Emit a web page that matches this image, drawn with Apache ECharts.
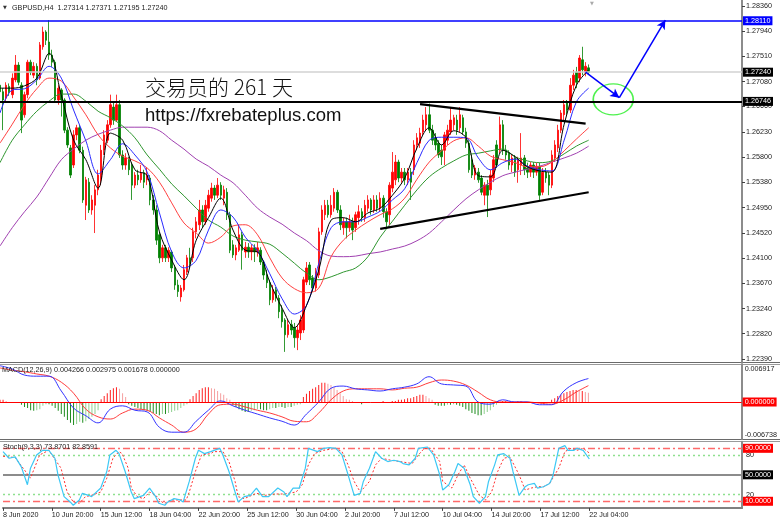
<!DOCTYPE html>
<html>
<head>
<meta charset="utf-8">
<script src="https://cdn.jsdelivr.net/npm/echarts@6.0.0/dist/echarts.min.js"></script>
<style>
html,body{margin:0;padding:0;background:#ffffff;}
#chart{width:780px;height:523px;}
</style>
</head>
<body>
<div id="chart"></div>
<script>
// ---------------- data ----------------
const symbolTitle = 'GBPUSD,H4  1.27314 1.27371 1.27195 1.27240';
const macdTitle = 'MACD(12,26,9) 0.004266 0.002975 0.001678 0.000000';
const stochTitle = 'Stoch(9,3,3) 73.8701 82.8591';
const noteCn = '交易员的 261 天';
const noteUrl = 'https://fxrebateplus.com';

const timeTicks = ['8 Jun 2020','10 Jun 20:00','15 Jun 12:00','18 Jun 04:00','22 Jun 20:00','25 Jun 12:00','30 Jun 04:00','2 Jul 20:00','7 Jul 12:00','10 Jul 04:00','14 Jul 20:00','17 Jul 12:00','22 Jul 04:00'];
const TICK_STEP = 16;      // bars between time labels
const SLOTS = 243;         // bar slots incl. right chart shift

const priceTicks = ['1.28360','1.27940','1.27510','1.27080','1.26660','1.26230','1.25800','1.25380','1.24950','1.24520','1.24100','1.23670','1.23240','1.22820','1.22390'];
const macdTicks = ['0.006917','-0.006738'];
const stochTicks = ['80','20'];

const levelBlue = 1.28110, levelBid = 1.27240, levelBlack = 1.26746;

// [open, close, low, high]
const candles = [
[1.2702,1.2691,1.2684,1.2707],[1.2691,1.2677,1.2626,1.2697],[1.2680,1.2702,1.2674,1.2707],[1.2700,1.2691,1.2684,1.2705],[1.2686,1.2714,1.2680,1.2722],
[1.2711,1.2736,1.2707,1.2753],[1.2736,1.2707,1.2702,1.2741],[1.2702,1.2643,1.2621,1.2707],[1.2652,1.2686,1.2647,1.2691],[1.2686,1.2741,1.2680,1.2745],
[1.2741,1.2724,1.2719,1.2745],[1.2719,1.2734,1.2714,1.2741],[1.2734,1.2711,1.2702,1.2739],[1.2714,1.2770,1.2711,1.2775],[1.2767,1.2792,1.2762,1.2801],
[1.2792,1.2778,1.2770,1.2795],[1.2775,1.2753,1.2745,1.2812],[1.2753,1.2741,1.2733,1.2762],[1.2741,1.2677,1.2674,1.2745],[1.2677,1.2697,1.2669,1.2702],
[1.2694,1.2677,1.2649,1.2697],[1.2677,1.2626,1.2621,1.2680],[1.2626,1.2601,1.2596,1.2631],[1.2596,1.2550,1.2545,1.2601],[1.2567,1.2618,1.2562,1.2626],
[1.2618,1.2630,1.2609,1.2635],[1.2630,1.2592,1.2587,1.2635],[1.2592,1.2508,1.2503,1.2598],[1.2499,1.2542,1.2474,1.2547],[1.2538,1.2491,1.2486,1.2545],
[1.2491,1.2508,1.2483,1.2516],[1.2499,1.2525,1.2452,1.2533],[1.2525,1.2550,1.2516,1.2559],[1.2542,1.2592,1.2533,1.2601],[1.2592,1.2618,1.2584,1.2626],
[1.2609,1.2635,1.2604,1.2643],[1.2635,1.2669,1.2630,1.2686],[1.2665,1.2643,1.2635,1.2674],[1.2643,1.2669,1.2640,1.2686],[1.2669,1.2584,1.2579,1.2677],
[1.2584,1.2567,1.2559,1.2592],[1.2567,1.2579,1.2559,1.2587],[1.2576,1.2559,1.2550,1.2581],[1.2567,1.2533,1.2508,1.2572],[1.2533,1.2550,1.2528,1.2555],
[1.2550,1.2542,1.2533,1.2559],[1.2542,1.2554,1.2537,1.2567],[1.2554,1.2538,1.2528,1.2559],[1.2542,1.2550,1.2533,1.2562],[1.2545,1.2508,1.2499,1.2550],
[1.2508,1.2491,1.2483,1.2516],[1.2491,1.2440,1.2432,1.2499],[1.2449,1.2410,1.2401,1.2454],[1.2410,1.2427,1.2403,1.2432],[1.2427,1.2410,1.2403,1.2432],
[1.2410,1.2423,1.2403,1.2428],[1.2420,1.2393,1.2386,1.2423],[1.2393,1.2364,1.2356,1.2398],[1.2364,1.2353,1.2344,1.2373],[1.2344,1.2359,1.2336,1.2364],
[1.2356,1.2390,1.2353,1.2398],[1.2386,1.2410,1.2381,1.2415],[1.2410,1.2401,1.2393,1.2427],[1.2410,1.2454,1.2403,1.2461],[1.2454,1.2471,1.2443,1.2479],
[1.2466,1.2491,1.2457,1.2508],[1.2491,1.2471,1.2461,1.2499],[1.2471,1.2499,1.2466,1.2508],[1.2494,1.2516,1.2488,1.2525],[1.2511,1.2528,1.2505,1.2537],
[1.2528,1.2516,1.2508,1.2533],[1.2516,1.2533,1.2511,1.2545],[1.2533,1.2516,1.2508,1.2538],[1.2511,1.2525,1.2499,1.2532],[1.2521,1.2483,1.2474,1.2528],
[1.2483,1.2423,1.2418,1.2488],[1.2432,1.2415,1.2410,1.2440],[1.2415,1.2427,1.2406,1.2432],[1.2423,1.2449,1.2420,1.2466],[1.2449,1.2423,1.2390,1.2454],
[1.2420,1.2428,1.2410,1.2437],[1.2428,1.2420,1.2410,1.2435],[1.2420,1.2427,1.2406,1.2433],[1.2427,1.2420,1.2403,1.2433],[1.2420,1.2427,1.2412,1.2437],
[1.2423,1.2403,1.2398,1.2428],[1.2403,1.2381,1.2373,1.2406],[1.2381,1.2368,1.2359,1.2390],[1.2368,1.2339,1.2330,1.2373],[1.2339,1.2356,1.2334,1.2364],
[1.2356,1.2342,1.2336,1.2361],[1.2342,1.2319,1.2308,1.2347],[1.2322,1.2302,1.2292,1.2330],[1.2305,1.2280,1.2251,1.2308],[1.2280,1.2297,1.2275,1.2305],
[1.2297,1.2288,1.2280,1.2305],[1.2292,1.2275,1.2258,1.2300],[1.2275,1.2288,1.2254,1.2297],[1.2283,1.2305,1.2271,1.2313],[1.2288,1.2373,1.2283,1.2378],
[1.2369,1.2393,1.2364,1.2403],[1.2398,1.2373,1.2364,1.2403],[1.2376,1.2359,1.2353,1.2381],[1.2359,1.2386,1.2353,1.2393],[1.2381,1.2454,1.2376,1.2461],
[1.2454,1.2491,1.2449,1.2499],[1.2483,1.2499,1.2474,1.2508],[1.2499,1.2483,1.2478,1.2508],[1.2483,1.2499,1.2478,1.2516],[1.2494,1.2521,1.2488,1.2528],
[1.2521,1.2491,1.2486,1.2525],[1.2491,1.2466,1.2457,1.2499],[1.2461,1.2471,1.2449,1.2478],[1.2471,1.2461,1.2443,1.2478],[1.2461,1.2471,1.2454,1.2483],
[1.2471,1.2457,1.2440,1.2478],[1.2461,1.2483,1.2454,1.2488],[1.2478,1.2488,1.2466,1.2499],[1.2488,1.2478,1.2471,1.2494],[1.2478,1.2499,1.2471,1.2508],
[1.2494,1.2508,1.2488,1.2516],[1.2508,1.2491,1.2483,1.2511],[1.2491,1.2508,1.2486,1.2516],[1.2508,1.2494,1.2488,1.2516],[1.2494,1.2511,1.2488,1.2521],
[1.2511,1.2488,1.2478,1.2516],[1.2488,1.2471,1.2461,1.2494],[1.2483,1.2533,1.2466,1.2538],[1.2528,1.2555,1.2521,1.2589],[1.2542,1.2572,1.2533,1.2584],
[1.2572,1.2545,1.2538,1.2576],[1.2545,1.2555,1.2537,1.2562],[1.2555,1.2542,1.2533,1.2562],[1.2542,1.2555,1.2533,1.2562],[1.2555,1.2538,1.2508,1.2562],
[1.2559,1.2601,1.2550,1.2609],[1.2601,1.2613,1.2592,1.2621],[1.2604,1.2621,1.2596,1.2630],[1.2623,1.2643,1.2618,1.2652],[1.2635,1.2652,1.2626,1.2665],
[1.2652,1.2626,1.2621,1.2671],[1.2626,1.2609,1.2601,1.2635],[1.2613,1.2601,1.2592,1.2621],[1.2604,1.2584,1.2579,1.2609],[1.2592,1.2581,1.2567,1.2601],
[1.2592,1.2618,1.2567,1.2623],[1.2609,1.2626,1.2601,1.2635],[1.2623,1.2643,1.2618,1.2664],[1.2635,1.2647,1.2626,1.2652],[1.2643,1.2626,1.2618,1.2652],
[1.2630,1.2652,1.2623,1.2665],[1.2647,1.2623,1.2618,1.2652],[1.2623,1.2604,1.2596,1.2630],[1.2604,1.2559,1.2554,1.2609],[1.2576,1.2550,1.2545,1.2584],
[1.2550,1.2562,1.2542,1.2567],[1.2555,1.2542,1.2537,1.2562],[1.2545,1.2521,1.2516,1.2550],[1.2516,1.2533,1.2499,1.2538],[1.2533,1.2516,1.2479,1.2542],
[1.2525,1.2550,1.2516,1.2559],[1.2545,1.2576,1.2538,1.2584],[1.2601,1.2567,1.2562,1.2609],[1.2592,1.2635,1.2587,1.2649],[1.2635,1.2592,1.2584,1.2643],
[1.2592,1.2584,1.2576,1.2601],[1.2587,1.2567,1.2559,1.2592],[1.2567,1.2579,1.2555,1.2584],[1.2579,1.2555,1.2547,1.2584],[1.2559,1.2576,1.2537,1.2581],
[1.2567,1.2579,1.2550,1.2621],[1.2579,1.2559,1.2550,1.2584],[1.2562,1.2555,1.2545,1.2571],[1.2555,1.2567,1.2547,1.2572],[1.2567,1.2555,1.2545,1.2572],
[1.2555,1.2565,1.2549,1.2571],[1.2565,1.2516,1.2508,1.2571],[1.2521,1.2555,1.2516,1.2562],[1.2555,1.2545,1.2537,1.2562],[1.2550,1.2533,1.2516,1.2555],
[1.2533,1.2584,1.2528,1.2592],[1.2579,1.2601,1.2572,1.2609],[1.2596,1.2626,1.2589,1.2635],[1.2626,1.2655,1.2621,1.2660],[1.2652,1.2669,1.2643,1.2677],
[1.2672,1.2660,1.2652,1.2677],[1.2660,1.2702,1.2655,1.2714],[1.2702,1.2719,1.2694,1.2728],[1.2724,1.2707,1.2697,1.2733],[1.2714,1.2748,1.2707,1.2753],
[1.2745,1.2728,1.2719,1.2767],[1.2724,1.2734,1.2717,1.2741],[1.27314,1.27240,1.27195,1.27371]
];

// moving averages read every 4 bars
const maIdx = [0,4,8,12,16,20,24,28,32,36,40,44,48,52,56,60,64,68,72,76,80,84,88,92,96,100,104,108,112,116,120,124,128,132,136,140,144,148,152,156,160,164,168,172,176,180,184,188,192];
const maBlack = [1.2697,1.2697,1.2701,1.2714,1.2756,1.2685,1.2609,1.2576,1.2528,1.2621,1.2609,1.2559,1.2549,1.2454,1.2406,1.2373,1.2440,1.2478,1.2511,1.2457,1.2423,1.2420,1.2369,1.2325,1.2292,1.2330,1.2390,1.2474,1.2478,1.2471,1.2486,1.2494,1.2516,1.2545,1.2596,1.2630,1.2601,1.2625,1.2613,1.2549,1.2547,1.2592,1.2581,1.2564,1.2557,1.2555,1.2636,1.2702,1.2728];
const maBlue = [1.2655,1.2694,1.2696,1.2711,1.2734,1.2714,1.2660,1.2608,1.2552,1.2576,1.2603,1.2584,1.2555,1.2486,1.2420,1.2393,1.2406,1.2457,1.2491,1.2479,1.2445,1.2422,1.2383,1.2341,1.2315,1.2330,1.2401,1.2461,1.2471,1.2471,1.2479,1.2489,1.2508,1.2527,1.2571,1.2609,1.2614,1.2614,1.2613,1.2579,1.2559,1.2571,1.2577,1.2565,1.2559,1.2557,1.2609,1.2674,1.2697];
const maRed = [1.2604,1.2636,1.2669,1.2696,1.2714,1.2709,1.2682,1.2652,1.2618,1.2596,1.2582,1.2574,1.2562,1.2538,1.2503,1.2469,1.2452,1.2435,1.2445,1.2464,1.2466,1.2449,1.2410,1.2376,1.2358,1.2351,1.2359,1.2412,1.2440,1.2457,1.2471,1.2483,1.2493,1.2511,1.2543,1.2572,1.2591,1.2608,1.2613,1.2599,1.2582,1.2576,1.2571,1.2564,1.2564,1.2572,1.2591,1.2611,1.2630];
const maGreen = [1.2571,1.2609,1.2635,1.2658,1.2675,1.2687,1.2687,1.2675,1.2658,1.2647,1.2633,1.2613,1.2584,1.2560,1.2535,1.2515,1.2494,1.2474,1.2462,1.2447,1.2440,1.2437,1.2433,1.2418,1.2401,1.2384,1.2373,1.2378,1.2386,1.2393,1.2412,1.2445,1.2472,1.2499,1.2525,1.2547,1.2562,1.2574,1.2584,1.2587,1.2591,1.2594,1.2581,1.2574,1.2571,1.2574,1.2586,1.2599,1.2609];
const maPurple = [1.2430,1.2461,1.2488,1.2513,1.2545,1.2576,1.2594,1.2609,1.2619,1.2626,1.2631,1.2631,1.2631,1.2625,1.2609,1.2594,1.2577,1.2565,1.2550,1.2537,1.2516,1.2494,1.2479,1.2467,1.2452,1.2439,1.2422,1.2413,1.2412,1.2413,1.2417,1.2420,1.2425,1.2430,1.2439,1.2452,1.2471,1.2491,1.2510,1.2525,1.2538,1.2549,1.2555,1.2560,1.2565,1.2572,1.2579,1.2587,1.2599];

// drawn objects (bar index, price)
const trendUpper = [[137,1.2670],[191,1.2637]];
const trendLower = [[124,1.2459],[192,1.2521]];
const arrowDown = [[191,1.2724],[202,1.2681]];
const arrowUp = [[202,1.2681],[217,1.2812]];
const targetZone = [[200,1.2678]];

// MACD (lines read every 4 bars, histogram per bar)
const macdMain = [0.0066,0.0060,0.0049,0.0047,0.0047,0.0020,-0.0011,-0.0025,-0.0038,-0.0013,-0.0007,-0.0015,-0.0018,-0.0046,-0.0055,-0.0055,-0.0035,-0.0015,0.0002,-0.0007,-0.0015,-0.0022,-0.0029,-0.0035,-0.0042,-0.0022,0.0000,0.0025,0.0029,0.0024,0.0022,0.0020,0.0024,0.0027,0.0033,0.0046,0.0033,0.0031,0.0029,0.0000,-0.0004,0.0004,0.0000,0.0000,-0.0005,-0.0005,0.0020,0.0035,0.004266];
const macdSignal = [0.0062,0.0058,0.0055,0.0051,0.0047,0.0036,0.0016,-0.0013,-0.0027,-0.0031,-0.0020,-0.0013,-0.0015,-0.0029,-0.0042,-0.0055,-0.0049,-0.0022,-0.0005,-0.0004,-0.0009,-0.0015,-0.0020,-0.0027,-0.0035,-0.0036,-0.0020,0.0004,0.0020,0.0024,0.0024,0.0024,0.0022,0.0025,0.0027,0.0035,0.0040,0.0038,0.0031,0.0018,0.0004,0.0000,0.0000,0.0000,-0.0002,-0.0004,0.0004,0.0018,0.002975];
const macdHist = [
0.0004,0.0004,0.0002,0,-0.0002,0,-0.0002,-0.0005,-0.0009,-0.0011,
-0.0015,-0.0016,-0.0015,-0.0013,-0.0007,-0.0004,-0.0004,-0.0007,-0.0011,-0.0016,
-0.0022,-0.0027,-0.0033,-0.0038,-0.0042,-0.0040,-0.0036,-0.0038,-0.0035,-0.0031,
-0.0027,-0.0022,-0.0015,0.0005,0.0011,0.0016,0.0022,0.0025,0.0027,0.0024,
0.0016,0.0009,-0.0004,-0.0007,-0.0009,-0.0011,-0.0013,-0.0015,-0.0016,-0.0018,
-0.0020,-0.0022,-0.0024,-0.0022,-0.0022,-0.0020,-0.0018,-0.0016,-0.0015,-0.0011,
-0.0007,-0.0004,0.0005,0.0011,0.0016,0.0022,0.0025,0.0027,0.0027,0.0025,
0.0024,0.0020,0.0016,0.0013,0.0007,0.0004,-0.0005,-0.0009,-0.0013,-0.0016,
-0.0018,-0.0018,-0.0016,-0.0015,-0.0013,-0.0013,-0.0015,-0.0015,-0.0013,-0.0011,
-0.0011,-0.0009,-0.0009,-0.0011,-0.0009,-0.0009,-0.0007,-0.0005,-0.0004,0.0009,
0.0015,0.0020,0.0024,0.0027,0.0031,0.0035,0.0035,0.0033,0.0031,0.0027,
0.0022,0.0016,0.0011,0.0005,0.0004,0.0002,0,-0.0002,-0.0004,-0.0002,
0,0,-0.0002,0,0,0.0002,0,0,0.0002,0.0002,
0.0004,0.0004,0.0005,0.0007,0.0007,0.0009,0.0011,0.0013,0.0013,0.0011,
0.0007,0.0004,-0.0005,-0.0007,-0.0007,-0.0007,-0.0005,-0.0005,-0.0004,-0.0005,
-0.0007,-0.0009,-0.0013,-0.0016,-0.0020,-0.0022,-0.0024,-0.0024,-0.0022,-0.0018,
-0.0015,-0.0009,-0.0005,-0.0002,0.0002,0.0002,0,-0.0002,-0.0002,0.0002,
0.0002,0,-0.0002,-0.0002,0,-0.0002,-0.0002,0,-0.0002,0,
0.0004,0.0007,0.0011,0.0013,0.0016,0.0018,0.0020,0.0022,0.0022,0.0020,
0.0020,0.0018,0.001678
];

// Stochastic (bar index, value)
const stochMain = [[0,85],[2,75],[4,77],[6,62],[8,35],[9,60],[11,80],[13,87],[15,87],[17,75],[18,50],[20,17],[22,9],[23,4],[25,12],[26,22],[28,19],[29,17],[32,30],[34,55],[35,80],[37,87],[38,82],[40,55],[42,24],[43,14],[46,19],[48,30],[50,17],[51,7],[53,4],[54,9],[56,14],[58,12],[59,9],[61,40],[63,75],[64,87],[66,82],[68,85],[71,90],[72,80],[74,55],[76,24],[77,9],[79,17],[81,19],[83,30],[85,17],[87,17],[90,30],[92,24],[93,17],[95,30],[97,30],[99,60],[100,90],[103,85],[105,90],[107,91],[109,90],[111,80],[113,50],[115,19],[117,22],[118,40],[120,60],[122,85],[124,75],[126,70],[128,72],[130,70],[131,67],[133,65],[135,75],[136,90],[139,92],[141,80],[143,50],[144,27],[146,35],[148,55],[149,67],[151,60],[153,35],[154,17],[156,7],[158,17],[159,40],[161,65],[162,80],[164,82],[166,75],[167,55],[169,19],[171,32],[172,35],[174,37],[175,30],[177,32],[179,37],[180,47],[182,90],[184,94],[185,87],[187,87],[188,90],[190,87],[192,73.87]];
const stochSignal = [[0,78],[4,76],[9,45],[12,80],[15,87],[19,60],[21,24],[23,9],[25,7],[27,17],[29,19],[32,24],[34,45],[36,75],[38,85],[39,82],[41,60],[42,30],[44,17],[46,14],[48,24],[50,19],[52,9],[53,7],[55,12],[58,12],[60,12],[61,24],[63,55],[65,80],[68,82],[69,85],[72,85],[74,70],[76,40],[77,17],[79,14],[83,22],[86,19],[89,21],[92,21],[96,24],[98,35],[100,65],[102,82],[105,87],[109,90],[111,85],[113,65],[115,40],[117,24],[120,40],[122,65],[124,75],[127,72],[130,70],[134,67],[136,80],[138,90],[140,90],[143,70],[144,40],[147,30],[149,50],[151,65],[153,45],[156,19],[158,12],[160,24],[162,55],[164,75],[166,77],[169,50],[171,27],[173,30],[175,32],[177,32],[179,37],[182,60],[184,85],[186,90],[188,87],[190,90],[192,82.86]];
const stochLevels = {high: 90, upper: 80, mid: 50, lower: 20, low: 10};

// ---------------- chart ----------------
const FONT = 'Liberation Sans, Arial, sans-serif';
const FS = 7.2;
const cats = Array.from({length: SLOTS}, (_, i) => String(i));
const zip = (xs, ys) => xs.map((x, k) => [x, ys[k]]);
const isTimeTick = (i) => i % TICK_STEP === 0 && i / TICK_STEP < timeTicks.length;

function xAx(g, show) {
  return {
    type: 'category', gridIndex: g, data: cats, boundaryGap: false,
    axisLine: {show: show, onZero: false, lineStyle: {color: '#808080', width: 2}},
    axisTick: {show: show, interval: (i) => isTimeTick(i), length: 3, lineStyle: {color: '#404040'}},
    axisLabel: {show: show, interval: (i) => isTimeTick(i), formatter: (v, i) => timeTicks[i / TICK_STEP] || '',
      align: 'left', fontSize: FS, fontFamily: FONT, color: '#222', margin: 4},
    splitLine: {show: false}
  };
}
function boxLabel(text, bg) {
  return {show: true, position: 'end', formatter: text, distance: 1, color: '#ffffff', backgroundColor: bg,
    fontSize: FS, fontFamily: FONT, padding: [1, 2, 0, 2], lineHeight: 8};
}
// full-width horizontal level drawn between first and last bar slot
function level(v, color, width, bg) {
  return [
    {coord: [0, v], lineStyle: {color: color, width: width, type: 'solid'}, label: boxLabel(v.toFixed(5), bg)},
    {coord: [SLOTS - 1, v]}
  ];
}
const axisLineStyle = {show: true, lineStyle: {color: '#8c8c8c', width: 2}};

const histData = macdHist.map((v, i) => {
  const prev = i > 0 ? macdHist[i - 1] : v;
  let c;
  if (v >= 0) c = v >= prev ? '#ff2020' : '#f5a0a0';
  else c = v <= prev ? '#1e8c1e' : '#8fd08f';
  return {value: v, itemStyle: {color: c}};
});

const maSeries = [
  [maPurple, '#a040b0'], [maGreen, '#2f962f'], [maRed, '#ff4040'], [maBlue, '#2a2aff'], [maBlack, '#000000']
].map(([vals, col]) => ({
  type: 'line', xAxisIndex: 0, yAxisIndex: 0, data: zip(maIdx, vals), showSymbol: false, smooth: 0.35,
  lineStyle: {color: col, width: 1}, z: 3, silent: true
}));

const option = {
  animation: false,
  backgroundColor: '#ffffff',
  grid: [
    {left: 0, top: 0, width: 742, height: 362},
    {left: 0, top: 364, width: 742, height: 75},
    {left: 0, top: 441.7, width: 742, height: 66.2}
  ],
  xAxis: [xAx(0, false), xAx(1, false), xAx(2, true)],
  yAxis: [
    {type: 'value', gridIndex: 0, position: 'right', min: 1.22339, max: 1.28461,
      axisLine: axisLineStyle,
      axisTick: {show: true, customValues: priceTicks.map(Number), length: 3, lineStyle: {color: '#404040'}},
      axisLabel: {customValues: priceTicks.map(Number), formatter: (v) => v.toFixed(5), fontSize: FS, fontFamily: FONT, color: '#222', margin: 4},
      splitLine: {show: false}},
    {type: 'value', gridIndex: 1, position: 'right', min: Number(macdTicks[1]), max: Number(macdTicks[0]),
      axisLine: axisLineStyle,
      axisTick: {show: false},
      axisLabel: {customValues: macdTicks.map(Number), showMinLabel: true, showMaxLabel: true, margin: 3,
        formatter: (v) => v > 0 ? '{t|' + macdTicks[0] + '}' : '{b|' + macdTicks[1] + '}',
        rich: {t: {fontSize: FS, fontFamily: FONT, color: '#222', padding: [10, 0, 0, 0]},
               b: {fontSize: FS, fontFamily: FONT, color: '#222', padding: [0, 0, 8, 0]}}},
      splitLine: {show: false}},
    {type: 'value', gridIndex: 2, position: 'right', min: 0, max: 100,
      axisLine: axisLineStyle,
      axisTick: {show: false},
      axisLabel: {customValues: stochTicks.map(Number), formatter: (v) => String(v), fontSize: FS, fontFamily: FONT, color: '#222', margin: 4},
      splitLine: {show: false}}
  ],
  series: [
    {type: 'candlestick', xAxisIndex: 0, yAxisIndex: 0, data: candles, barWidth: 2, z: 2,
      itemStyle: {color: '#ff0000', color0: '#008000', borderColor: '#ff0000', borderColor0: '#008000', borderWidth: 0.8},
      markLine: {silent: true, symbol: ['none', 'none'], animation: false, z: 6,
        data: [
          level(levelBid, '#d2d2d2', 1.5, '#000000'),
          level(levelBlue, '#0000ff', 1.5, '#0000ff'),
          level(levelBlack, '#000000', 1.8, '#000000'),
          [{coord: arrowDown[0], lineStyle: {color: '#0000ff', width: 1.5, type: 'solid'}, label: {show: false}},
           {coord: arrowDown[1], symbol: 'arrow', symbolSize: [7, 9]}],
          [{coord: arrowUp[0], lineStyle: {color: '#0000ff', width: 1.5, type: 'solid'}, label: {show: false}},
           {coord: arrowUp[1], symbol: 'arrow', symbolSize: [7, 9]}]
        ]}},
    ...maSeries,
    {type: 'line', xAxisIndex: 0, yAxisIndex: 0, data: trendUpper, showSymbol: false, lineStyle: {color: '#000', width: 2.2}, z: 4, silent: true},
    {type: 'line', xAxisIndex: 0, yAxisIndex: 0, data: trendLower, showSymbol: false, lineStyle: {color: '#000', width: 2.2}, z: 4, silent: true},
    {type: 'scatter', xAxisIndex: 0, yAxisIndex: 0, data: targetZone, symbol: 'circle', symbolSize: [40, 31], z: 5, silent: true,
      itemStyle: {color: 'rgba(0,0,0,0)', borderColor: '#22ee22', borderWidth: 1.5}},
    // MACD
    {type: 'bar', xAxisIndex: 1, yAxisIndex: 1, data: histData, barWidth: 1, z: 2, silent: true,
      markLine: {silent: true, symbol: ['none', 'none'], animation: false,
        data: [{yAxis: 0, lineStyle: {color: '#ff0000', width: 1, type: 'solid'}, label: boxLabel('0.000000', '#ff0000')}]}},
    {type: 'line', xAxisIndex: 1, yAxisIndex: 1, data: zip(maIdx, macdSignal), showSymbol: false, smooth: 0.4, lineStyle: {color: '#ff3b3b', width: 1}, z: 3, silent: true},
    {type: 'line', xAxisIndex: 1, yAxisIndex: 1, data: zip(maIdx, macdMain), showSymbol: false, smooth: 0.4, lineStyle: {color: '#3434ff', width: 1}, z: 3, silent: true},
    // Stochastic
    {type: 'line', xAxisIndex: 2, yAxisIndex: 2, data: stochSignal, showSymbol: false, lineStyle: {color: '#ff3030', width: 1, type: [2, 2]}, z: 3, silent: true,
      markLine: {silent: true, symbol: ['none', 'none'], animation: false, z: 1,
        data: [
          {yAxis: stochLevels.high, lineStyle: {color: '#ff6a6a', width: 1.3, type: [7, 3, 2, 3]}, label: boxLabel('90.0000', '#ff0000')},
          {yAxis: stochLevels.upper, lineStyle: {color: '#8ee08e', width: 1.3, type: [2, 3]}, label: {show: false}},
          {yAxis: stochLevels.mid, lineStyle: {color: '#8c8c8c', width: 2, type: 'solid'}, label: boxLabel('50.0000', '#000000')},
          {yAxis: stochLevels.lower, lineStyle: {color: '#8ee08e', width: 1.3, type: [2, 3]}, label: {show: false}},
          {yAxis: stochLevels.low, lineStyle: {color: '#ff6a6a', width: 1.3, type: [7, 3, 2, 3]}, label: boxLabel('10.0000', '#ff0000')}
        ]}},
    {type: 'line', xAxisIndex: 2, yAxisIndex: 2, data: stochMain, showSymbol: false, lineStyle: {color: '#3cc8f5', width: 1.2}, z: 4, silent: true}
  ],
  graphic: [
    {type: 'text', x: 3, y: 8, style: {text: '▼', fontSize: 5, fontFamily: 'DejaVu Sans', fill: '#333', verticalAlign: 'middle'}},
    {type: 'text', x: 12, y: 8, style: {text: symbolTitle, fontSize: FS, fontFamily: FONT, fill: '#222', verticalAlign: 'middle'}},
    {type: 'text', x: 590, y: 4, style: {text: '▼', fontSize: 5, fontFamily: 'DejaVu Sans', fill: '#aaa', verticalAlign: 'middle'}},
    {type: 'text', x: 145, y: 87, style: {text: noteCn, fontSize: 21, fontFamily: 'Noto Sans CJK SC', fontWeight: 300, fill: '#111', verticalAlign: 'middle'}},
    {type: 'text', x: 145, y: 116, style: {text: noteUrl, fontSize: 18.5, fontFamily: FONT, fill: '#111', verticalAlign: 'middle'}},
    {type: 'text', x: 2, y: 370, z: 10, style: {text: macdTitle, fontSize: FS, fontFamily: FONT, fill: '#222', verticalAlign: 'middle'}},
    {type: 'text', x: 3, y: 447, z: 10, style: {text: stochTitle, fontSize: FS, fontFamily: FONT, fill: '#222', verticalAlign: 'middle'}},
    {type: 'line', shape: {x1: 0, y1: 362.5, x2: 780, y2: 362.5}, style: {stroke: '#6a6a6a', lineWidth: 1}},
    {type: 'line', shape: {x1: 0, y1: 364.5, x2: 780, y2: 364.5}, style: {stroke: '#9a9a9a', lineWidth: 1}},
    {type: 'line', shape: {x1: 0, y1: 439.5, x2: 780, y2: 439.5}, style: {stroke: '#6a6a6a', lineWidth: 1}},
    {type: 'line', shape: {x1: 0, y1: 441.5, x2: 780, y2: 441.5}, style: {stroke: '#9a9a9a', lineWidth: 1}}
  ]
};

const chart = echarts.init(document.getElementById('chart'), null, {renderer: 'canvas'});
chart.setOption(option);
</script>
</body>
</html>
